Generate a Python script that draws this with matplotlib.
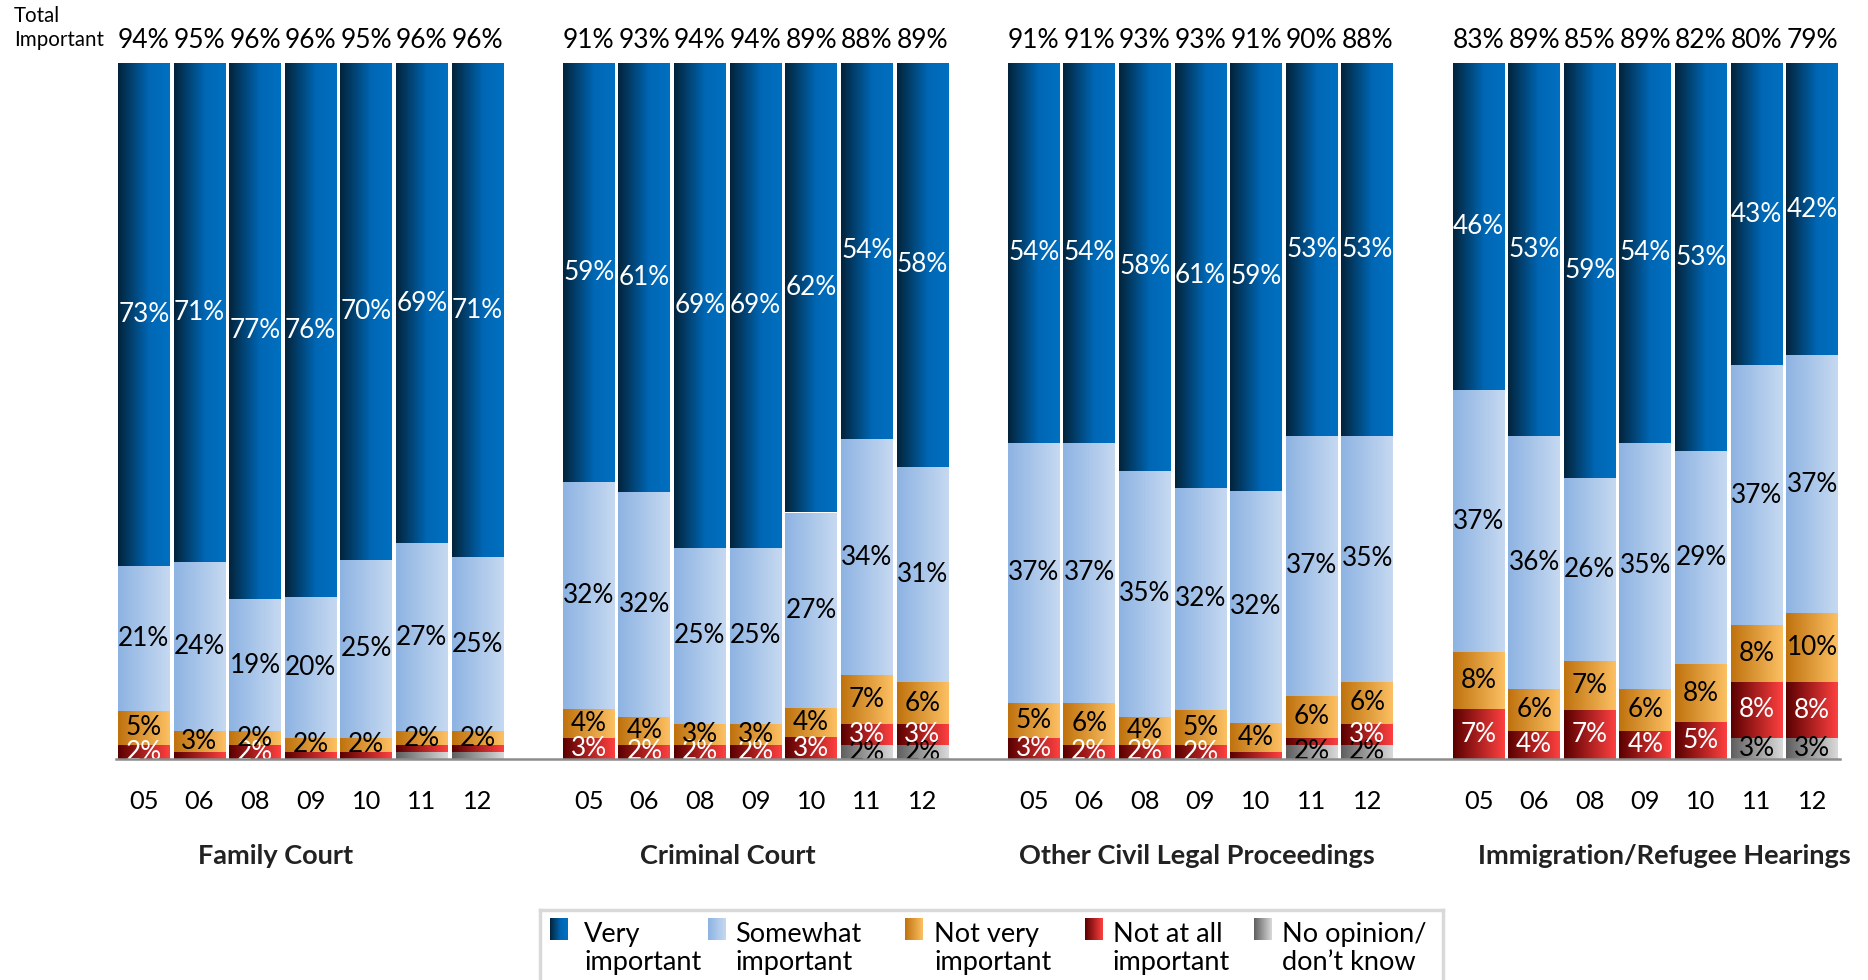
import numpy as np
import matplotlib.pyplot as plt
from matplotlib.colors import LinearSegmentedColormap

plt.rcParams['font.family'] = ['Lato', 'DejaVu Sans']

# Survey data (percent), one row per court type, one column per year
groups = ["Family Court", "Criminal Court", "Other Civil Legal Proceedings", "Immigration/Refugee Hearings"]
years = ["05", "06", "08", "09", "10", "11", "12"]

very_important = [
    [73, 71, 77, 76, 70, 69, 71],
    [59, 61, 69, 69, 62, 54, 58],
    [54, 54, 58, 61, 59, 53, 53],
    [46, 53, 59, 54, 53, 43, 42],
]
somewhat_important = [
    [21, 24, 19, 20, 25, 27, 25],
    [32, 32, 25, 25, 27, 34, 31],
    [37, 37, 35, 32, 32, 37, 35],
    [37, 36, 26, 35, 29, 37, 37],
]
not_very_important = [
    [5, 3, 2, 2, 2, 2, 2],
    [4, 4, 3, 3, 4, 7, 6],
    [5, 6, 4, 5, 4, 6, 6],
    [8, 6, 7, 6, 8, 8, 10],
]
not_at_all_important = [
    [2, 1, 2, 1, 1, 1, 1],
    [3, 2, 2, 2, 3, 3, 3],
    [3, 2, 2, 2, 1, 1, 3],
    [7, 4, 7, 4, 5, 8, 8],
]
no_opinion = [
    [0, 0, 0, 0, 0, 1, 1],
    [0, 0, 0, 0, 0, 2, 2],
    [0, 0, 0, 0, 0, 2, 2],
    [0, 0, 0, 0, 0, 3, 3],
]
total_important = [
    [94, 95, 96, 96, 95, 96, 96],
    [91, 93, 94, 94, 89, 88, 89],
    [91, 91, 93, 93, 91, 90, 88],
    [83, 89, 85, 89, 82, 80, 79],
]

# stacking order, bottom to top
series = [
    ("No opinion/\ndon\u2019t know", no_opinion, [(0, "#5e5e5e"), (1, "#dadada")], "black"),
    ("Not at all\nimportant", not_at_all_important, [(0, "#5a0000"), (1, "#ff4040")], "white"),
    ("Not very\nimportant", not_very_important, [(0, "#bf720e"), (1, "#fcc063")], "black"),
    ("Somewhat\nimportant", somewhat_important, [(0, "#8db3e2"), (1, "#c6d9f1")], "black"),
    ("Very\nimportant", very_important, [(0, "#03233a"), (0.6, "#0067b5"), (1, "#0070c0")], "white"),
]

W, H = 1868, 980
fig = plt.figure(figsize=(W / 100, H / 100), dpi=100)
ax = fig.add_axes([116 / W, 1 - 759 / H, (1840 - 116) / W, 696 / H])

grad = np.linspace(0, 1, 256).reshape(1, -1)
gap = 8  # one empty slot between groups
bar_w = 0.93

for g in range(len(groups)):
    x = g * gap + np.arange(len(years))
    totals = np.sum([np.array(s[1][g]) for s in series], axis=0)
    bottom = np.zeros(len(years))
    for name, data, stops, txt_color in series:
        vals = np.array(data[g], dtype=float)
        frac = vals / totals
        bars = ax.bar(x, frac, bottom=bottom, width=bar_w, color='none', linewidth=0)
        cmap = LinearSegmentedColormap.from_list(name, stops)
        for patch, v, f in zip(bars.patches, vals, frac):
            if v <= 0:
                continue
            x0, y0 = patch.get_x(), patch.get_y()
            im = ax.imshow(grad, cmap=cmap, aspect='auto', interpolation='bilinear',
                           extent=(x0, x0 + patch.get_width(), y0, y0 + f), zorder=1)
            im.set_clip_path(patch)
            if v >= 2:
                ax.text(x0 + patch.get_width() / 2, y0 + f / 2, f"{int(v)}%", ha='center', va='center',
                        color=txt_color, fontsize=18.8, zorder=3)
        bottom += frac
    # total important on top
    for xi, t in zip(x, total_important[g]):
        ax.text(xi, 1.032, f"{t}%", transform=ax.get_xaxis_transform(), ha='center', va='center',
                fontsize=19, clip_on=False)

ax.set_xlim(-0.5, 30.5)
ax.set_ylim(0, 1)
ax.set_xticks([g * gap + i for g in range(len(groups)) for i in range(len(years))],
              labels=years * len(groups))
ax.tick_params(axis='x', length=0, pad=22, labelsize=18.3)
ax.set_yticks([])
for s in ['top', 'left', 'right']:
    ax.spines[s].set_visible(False)
ax.spines['bottom'].set_color('#8c8c8c')
ax.spines['bottom'].set_linewidth(1.8)
ax.spines['bottom'].set_zorder(4)

# group titles
group_label_x = [2.37, 10.5, 18.94, 27.35]
for gx, name in zip(group_label_x, groups):
    ax.text(gx, -0.1395, name, transform=ax.get_xaxis_transform(), ha='center', va='center',
            fontsize=19.5, fontweight='bold', color='#222222')

fig.text(14 / W, 1 - 28 / H, "Total\nImportant", ha='left', va='center', fontsize=14.8, linespacing=1.3)

# legend drawn in its own pixel-space axes
lax = fig.add_axes([540 / W, 0, 903 / W, 70 / H])
lax.set_xlim(540, 1443)
lax.set_ylim(980, 910)
handle_x = [550, 708, 905, 1085, 1254]
text_x = [584, 735, 934, 1113, 1282]
legend_items = series[::-1]
for (name, data, stops, txt_color), hx, tx in zip(legend_items, handle_x, text_x):
    cmap = LinearSegmentedColormap.from_list(name + "_leg", stops)
    lax.imshow(grad, cmap=cmap, aspect='auto', extent=(hx, hx + 18, 940, 918), interpolation='bilinear')
    lax.text(tx, 948, name, ha='left', va='center', fontsize=19.5, linespacing=1.15)
lax.set_xlim(540, 1443)
lax.set_ylim(980, 910)
lax.set_xticks([])
lax.set_yticks([])
for s in ['top', 'left', 'right']:
    lax.spines[s].set_color('#d9d9d9')
    lax.spines[s].set_linewidth(2.5)
lax.spines['bottom'].set_visible(False)

fig.savefig("out.png", dpi=100)
